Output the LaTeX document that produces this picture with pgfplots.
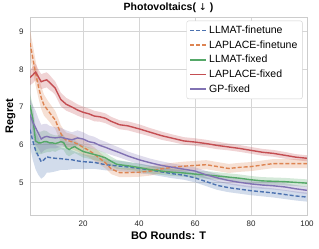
\documentclass[border=0pt]{standalone}
\usepackage{pgfplots}
\pgfplotsset{compat=1.18}
\usepackage{pgfplotstable}
\usepgfplotslibrary{fillbetween}
\usepackage{fontspec}
\setmainfont{Liberation Sans}
\newfontfamily\symfont{DejaVu Sans}

\definecolor{cblue}{RGB}{76,114,176}
\definecolor{corange}{RGB}{221,132,82}
\definecolor{cgreen}{RGB}{85,168,104}
\definecolor{cred}{RGB}{196,78,82}
\definecolor{cpurple}{RGB}{129,114,179}

% LLMAT-finetune
\pgfplotstableread{
T m e
1 6.40 0.45
2 6.10 0.50
3 5.85 0.50
4 5.70 0.50
5 5.55 0.45
6 5.60 0.45
7 5.68 0.42
8 5.66 0.40
10 5.64 0.35
12 5.63 0.30
14 5.61 0.28
16 5.60 0.25
18 5.57 0.22
20 5.55 0.20
22 5.54 0.18
24 5.53 0.17
26 5.50 0.16
28 5.47 0.15
32 5.44 0.14
36 5.41 0.13
40 5.37 0.13
44 5.33 0.12
48 5.28 0.12
52 5.23 0.12
56 5.19 0.12
60 5.12 0.12
64 5.02 0.12
68 4.92 0.12
72 4.86 0.12
76 4.82 0.12
80 4.78 0.12
84 4.75 0.12
88 4.72 0.12
92 4.68 0.12
96 4.64 0.12
100 4.61 0.12
}\tblue

% LAPLACE-finetune
\pgfplotstableread{
T m e
1 8.70 0.35
2 8.30 0.35
3 7.90 0.33
4 7.55 0.30
5 7.25 0.30
6 7.05 0.28
7 6.95 0.26
8 6.85 0.25
9 6.75 0.25
10 6.66 0.24
11 6.48 0.24
12 6.30 0.22
13 6.18 0.22
14 6.12 0.20
16 6.08 0.20
18 6.02 0.20
20 5.93 0.20
22 5.85 0.18
24 5.75 0.18
26 5.63 0.16
28 5.52 0.15
30 5.36 0.14
33 5.26 0.12
36 5.26 0.12
40 5.27 0.12
44 5.30 0.12
48 5.36 0.12
52 5.40 0.12
56 5.43 0.12
60 5.45 0.12
64 5.47 0.12
68 5.42 0.12
72 5.37 0.12
76 5.40 0.12
80 5.42 0.12
84 5.46 0.12
88 5.50 0.12
92 5.50 0.12
96 5.50 0.12
100 5.50 0.12
}\torange

% LLMAT-fixed
\pgfplotstableread{
T m e
1 7.05 0.30
2 6.70 0.35
3 6.10 0.35
4 6.05 0.30
5 6.05 0.30
6 6.08 0.30
7 6.08 0.28
8 6.05 0.25
9 6.05 0.22
10 6.03 0.22
11 6.05 0.20
12 6.08 0.20
13 6.06 0.20
14 5.92 0.18
15 5.87 0.18
16 5.92 0.18
17 5.95 0.17
18 5.90 0.16
20 5.82 0.16
22 5.78 0.15
24 5.74 0.15
26 5.70 0.14
28 5.65 0.13
30 5.56 0.12
32 5.48 0.12
35 5.45 0.11
38 5.42 0.10
41 5.38 0.10
44 5.34 0.10
48 5.30 0.10
52 5.27 0.10
56 5.25 0.10
60 5.22 0.10
64 5.20 0.10
68 5.17 0.10
72 5.14 0.10
76 5.11 0.10
80 5.07 0.10
84 5.04 0.10
88 5.03 0.10
92 5.02 0.10
96 5.00 0.10
100 4.98 0.10
}\tgreen

% LAPLACE-fixed
\pgfplotstableread{
T m e
1 7.78 0.20
2 7.85 0.22
3 7.93 0.22
4 7.80 0.20
5 7.67 0.20
6 7.70 0.20
7 7.72 0.20
8 7.65 0.20
9 7.58 0.18
10 7.50 0.18
11 7.35 0.18
12 7.20 0.18
14 7.07 0.17
16 7.00 0.16
18 6.92 0.15
20 6.86 0.15
22 6.82 0.14
24 6.76 0.14
26 6.74 0.13
28 6.70 0.13
30 6.62 0.12
33 6.53 0.12
36 6.50 0.12
40 6.42 0.12
44 6.33 0.11
48 6.24 0.11
52 6.17 0.10
56 6.10 0.10
60 6.07 0.10
64 6.03 0.10
68 5.98 0.10
72 5.94 0.09
76 5.90 0.09
80 5.85 0.09
84 5.80 0.09
88 5.77 0.09
92 5.72 0.09
96 5.67 0.08
100 5.64 0.08
}\tred

% GP-fixed
\pgfplotstableread{
T m e
1 6.80 0.40
2 6.60 0.45
3 6.45 0.45
4 6.30 0.40
5 6.15 0.38
6 6.20 0.35
7 6.22 0.33
8 6.20 0.30
10 6.18 0.28
12 6.20 0.25
14 6.16 0.22
16 6.13 0.20
18 6.18 0.20
20 6.15 0.18
22 6.08 0.17
24 6.05 0.16
26 5.98 0.15
28 5.93 0.15
30 5.87 0.14
33 5.79 0.13
36 5.70 0.12
40 5.60 0.12
44 5.52 0.11
48 5.45 0.11
52 5.40 0.10
56 5.35 0.10
60 5.30 0.10
64 5.20 0.10
68 5.12 0.10
72 5.05 0.10
76 5.00 0.10
80 4.96 0.10
84 4.93 0.10
88 4.91 0.10
92 4.88 0.10
96 4.83 0.10
100 4.79 0.10
}\tpurple

\begin{document}
\begin{tikzpicture}
\begin{axis}[
  scale only axis, width=277pt, height=197.7pt,
  xmin=1, xmax=100, ymin=4.135, ymax=9.38,
  xtick={20,40,60,80,100}, ytick={5,6,7,8,9},
  tick style={draw=none},
  grid=major, grid style={black!16, line width=0.5pt},
  axis line style={black!20, line width=0.8pt},
  ticklabel style={font=\fontsize{8}{9}\selectfont, text=black!85},
  xticklabel style={yshift=-2pt},
  yticklabel style={xshift=-3pt},
  /pgf/number format/assume math mode=true,
  xlabel={BO Rounds: T}, ylabel={Regret},
  label style={font=\bfseries\fontsize{11}{13}\selectfont},
  xlabel style={at={(axis description cs:0.5,-0.106)}, anchor=center},
  ylabel style={at={(axis description cs:-0.0704,0.5)}, anchor=center},
  every axis title shift=0pt,
  title={Photovoltaics( {\symfont\mdseries\fontsize{9.5}{11}\selectfont ↓} )},
  title style={font=\bfseries\fontsize{10.5}{12}\selectfont, at={(axis description cs:0.5,1.05)}, anchor=center, yshift=0pt},
  legend style={at={(0.984,0.983)}, anchor=north east, draw=black!18, fill=white, rounded corners=2pt, font=\fontsize{10.5}{12}\selectfont, row sep=1.6pt, inner xsep=3pt, inner ysep=3pt},
  legend cell align=left,
]
% bands
\addplot[name path=bu, draw=none, forget plot] table[x=T, y expr=\thisrow{m}+\thisrow{e}] {\tblue};
\addplot[name path=bl, draw=none, forget plot] table[x=T, y expr=\thisrow{m}-\thisrow{e}] {\tblue};
\addplot[fill=cblue, fill opacity=0.25, draw=none, forget plot] fill between[of=bu and bl];
\addplot[name path=ou, draw=none, forget plot] table[x=T, y expr=\thisrow{m}+\thisrow{e}] {\torange};
\addplot[name path=ol, draw=none, forget plot] table[x=T, y expr=\thisrow{m}-\thisrow{e}] {\torange};
\addplot[fill=corange, fill opacity=0.25, draw=none, forget plot] fill between[of=ou and ol];
\addplot[name path=gu, draw=none, forget plot] table[x=T, y expr=\thisrow{m}+\thisrow{e}] {\tgreen};
\addplot[name path=gl, draw=none, forget plot] table[x=T, y expr=\thisrow{m}-\thisrow{e}] {\tgreen};
\addplot[fill=cgreen, fill opacity=0.25, draw=none, forget plot] fill between[of=gu and gl];
\addplot[name path=ru, draw=none, forget plot] table[x=T, y expr=\thisrow{m}+\thisrow{e}] {\tred};
\addplot[name path=rl, draw=none, forget plot] table[x=T, y expr=\thisrow{m}-\thisrow{e}] {\tred};
\addplot[fill=cred, fill opacity=0.25, draw=none, forget plot] fill between[of=ru and rl];
\addplot[name path=pu, draw=none, forget plot] table[x=T, y expr=\thisrow{m}+\thisrow{e}] {\tpurple};
\addplot[name path=pl, draw=none, forget plot] table[x=T, y expr=\thisrow{m}-\thisrow{e}] {\tpurple};
\addplot[fill=cpurple, fill opacity=0.25, draw=none, forget plot] fill between[of=pu and pl];
% lines
\addplot[cblue, line width=1.4pt, dash pattern=on 4pt off 2pt, forget plot] table[x=T, y=m] {\tblue};
\addplot[corange, line width=1.4pt, dash pattern=on 4pt off 2pt, forget plot] table[x=T, y=m] {\torange};
\addplot[cgreen, line width=1.4pt, forget plot] table[x=T, y=m] {\tgreen};
\addplot[cred, line width=1.4pt, forget plot] table[x=T, y=m] {\tred};
\addplot[cpurple, line width=1.4pt, forget plot] table[x=T, y=m] {\tpurple};
% legend
\addlegendimage{legend image code/.code={\draw[draw=cblue, line width=1.5pt, dash pattern=on 4pt off 2pt] (0pt,0pt) -- (16pt,0pt);}}
\addlegendentry{LLMAT-finetune}
\addlegendimage{legend image code/.code={\draw[draw=corange, line width=1.5pt, dash pattern=on 4pt off 2pt] (0pt,0pt) -- (16pt,0pt);}}
\addlegendentry{LAPLACE-finetune}
\addlegendimage{legend image code/.code={\draw[draw=cgreen, line width=1.5pt] (0pt,0pt) -- (16pt,0pt);}}
\addlegendentry{LLMAT-fixed}
\addlegendimage{legend image code/.code={\draw[draw=cred, line width=1.5pt] (0pt,0pt) -- (16pt,0pt);}}
\addlegendentry{LAPLACE-fixed}
\addlegendimage{legend image code/.code={\draw[draw=cpurple, line width=1.5pt] (0pt,0pt) -- (16pt,0pt);}}
\addlegendentry{GP-fixed}
\end{axis}
\pgfresetboundingbox
\path ([xshift=-30pt,yshift=-33pt]current axis.south west) rectangle ([xshift=12pt,yshift=17.3pt]current axis.north east);
\end{tikzpicture}
\end{document}
